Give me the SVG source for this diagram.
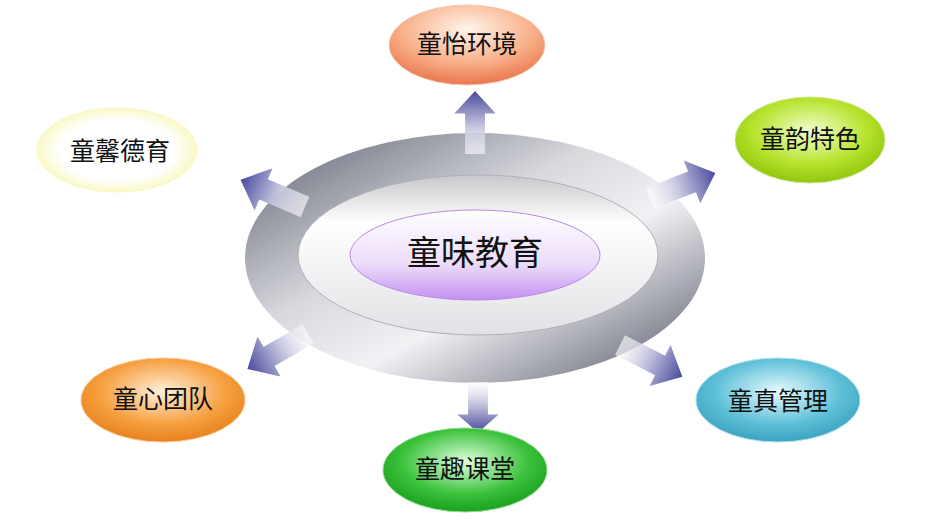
<svg xmlns="http://www.w3.org/2000/svg" width="937" height="527" viewBox="0 0 937 527">
<defs>
<style>
text{font-family:"Liberation Serif","Noto Sans CJK SC",serif;text-anchor:middle;dominant-baseline:central;fill:#111}
.t{font-size:25px}
.arrow{fill:url(#ag)}
</style>
<linearGradient id="ag" gradientUnits="userSpaceOnUse" x1="0" y1="0" x2="70" y2="0">
<stop offset="0" stop-color="#ffffff" stop-opacity="0.6"/><stop offset="0.5" stop-color="#b8b8d8"/><stop offset="1" stop-color="#4a4a9e"/>
</linearGradient>
<path id="arr" d="M0,-11 L45,-11 L45,-23 L70,0 L45,23 L45,11 L0,11 Z"/>
<linearGradient id="ring" x1="0" y1="0" x2="1" y2="1">
<stop offset="0" stop-color="#5a5d6c"/><stop offset="0.4" stop-color="#d8d9de"/><stop offset="0.6" stop-color="#f2f2f5"/><stop offset="1" stop-color="#4d5060"/>
</linearGradient>
<linearGradient id="inner" x1="0" y1="0" x2="0" y2="1">
<stop offset="0" stop-color="#c8c8cc"/><stop offset="0.3" stop-color="#ffffff"/><stop offset="1" stop-color="#e2e2e6"/>
</linearGradient>
<linearGradient id="pur" x1="0" y1="0" x2="0" y2="1">
<stop offset="0" stop-color="#ffffff"/><stop offset="0.6" stop-color="#ecdcfa"/><stop offset="1" stop-color="#c490f0"/>
</linearGradient>
<radialGradient id="gO" cx="0.5" cy="0.3" r="0.7"><stop offset="0" stop-color="#fff4ea"/><stop offset="0.6" stop-color="#f8b08a"/><stop offset="1" stop-color="#e9764c"/></radialGradient>
<radialGradient id="gY" cx="0.5" cy="0.5" r="0.6"><stop offset="0.6" stop-color="#ffffff"/><stop offset="1" stop-color="#f6f4a0"/></radialGradient>
<radialGradient id="gL" cx="0.5" cy="0.4" r="0.7"><stop offset="0" stop-color="#f2ffd0"/><stop offset="0.55" stop-color="#b6e22a"/><stop offset="1" stop-color="#7fb800"/></radialGradient>
<radialGradient id="gR" cx="0.5" cy="0.4" r="0.7"><stop offset="0" stop-color="#fff0dd"/><stop offset="0.55" stop-color="#f6a040"/><stop offset="1" stop-color="#e0730c"/></radialGradient>
<radialGradient id="gG" cx="0.5" cy="0.4" r="0.7"><stop offset="0" stop-color="#e0ffe0"/><stop offset="0.55" stop-color="#3cc23c"/><stop offset="1" stop-color="#0b8f12"/></radialGradient>
<radialGradient id="gT" cx="0.5" cy="0.4" r="0.7"><stop offset="0" stop-color="#e6fbff"/><stop offset="0.55" stop-color="#5fc0d8"/><stop offset="1" stop-color="#2a95b4"/></radialGradient>
</defs>
<rect width="937" height="527" fill="#fff"/>
<g id="center">
<ellipse cx="475" cy="258" rx="230" ry="125" fill="url(#ring)"/>
<ellipse cx="478" cy="255" rx="180" ry="80" fill="url(#inner)" stroke="#b0b0b8"/>
<ellipse cx="475" cy="255" rx="125" ry="45" fill="url(#pur)" stroke="#b98ae6"/>
<text x="475" y="253" style="font-size:34px">童味教育</text>
</g>
<g id="connectors">
<use href="#arr" class="arrow" transform="translate(475,154) rotate(-90) scale(0.9,0.9)"/>
<use href="#arr" class="arrow" transform="translate(305,207) rotate(203)"/>
<use href="#arr" class="arrow" transform="translate(650,198) rotate(-21)"/>
<use href="#arr" class="arrow" transform="translate(308,334) rotate(150)"/>
<use href="#arr" class="arrow" transform="translate(478,382) rotate(90) scale(0.72,0.9)"/>
<use href="#arr" class="arrow" transform="translate(620,345) rotate(27)"/>
</g>
<g id="n1"><ellipse cx="467" cy="45" rx="78" ry="40" fill="url(#gO)" stroke="#f0c8b0"/><text class="t" x="467" y="44">童怡环境</text></g>
<g id="n2"><ellipse cx="810" cy="140" rx="75" ry="43" fill="url(#gL)" stroke="#cfe890"/><text class="t" x="810" y="139">童韵特色</text></g>
<g id="n3"><ellipse cx="117" cy="150" rx="80" ry="42" fill="url(#gY)" stroke="#fbf8b8"/><text class="t" x="120" y="151">童馨德育</text></g>
<g id="n4"><ellipse cx="163" cy="400" rx="82" ry="42" fill="url(#gR)" stroke="#f8c890"/><text class="t" x="163" y="399">童心团队</text></g>
<g id="n5"><ellipse cx="465" cy="470" rx="82" ry="42" fill="url(#gG)" stroke="#90dd90"/><text class="t" x="465" y="469">童趣课堂</text></g>
<g id="n6"><ellipse cx="778" cy="400" rx="82" ry="42" fill="url(#gT)" stroke="#a8e0ee"/><text class="t" x="778" y="401">童真管理</text></g>
</svg>
